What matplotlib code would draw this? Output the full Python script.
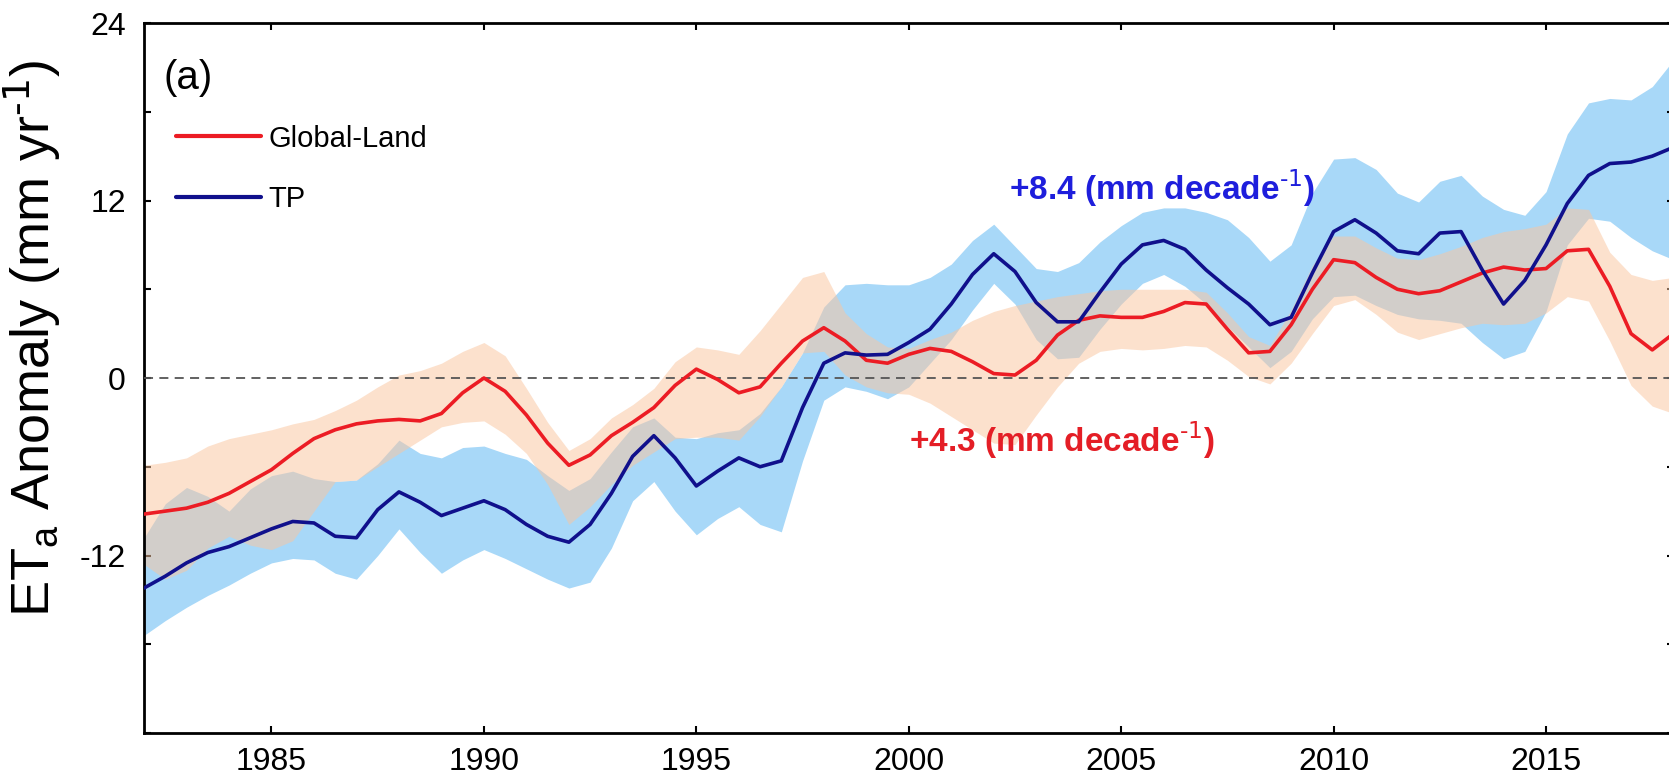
import numpy as np
import matplotlib
matplotlib.use("Agg")
import matplotlib.pyplot as plt
from matplotlib.ticker import FixedFormatter

plt.rcParams['font.family'] = ['Liberation Sans', 'DejaVu Sans']
plt.rcParams['mathtext.default'] = 'regular'
plt.rcParams['axes.unicode_minus'] = False

years = np.arange(1982.0, 2018.01, 0.5)

# Global-Land mean and band
glob_mean = [-9.2, -9.0, -8.8, -8.4, -7.8, -7.0, -6.2, -5.1, -4.1, -3.5, -3.1, -2.9, -2.8, -2.9, -2.4, -1.0,
             0.0, -0.9, -2.5, -4.4, -5.9, -5.2, -3.9, -3.0, -2.0, -0.5, 0.6, -0.1, -1.0, -0.6, 1.0, 2.5,
             3.4, 2.5, 1.2, 1.0, 1.6, 2.0, 1.8, 1.1, 0.3, 0.2, 1.2, 2.9, 3.9, 4.2, 4.1, 4.1, 4.5, 5.1,
             5.0, 3.3, 1.7, 1.8, 3.6, 6.0, 8.0, 7.8, 6.8, 6.0, 5.7, 5.9, 6.5, 7.1, 7.5, 7.3, 7.4, 8.6,
             8.7, 6.2, 3.0, 1.9, 3.0]
glob_hi = [-5.9, -5.7, -5.4, -4.6, -4.1, -3.8, -3.5, -3.1, -2.8, -2.2, -1.5, -0.6, 0.2, 0.5, 1.0, 1.8,
           2.4, 1.5, -0.7, -3.0, -4.9, -4.1, -2.7, -1.8, -0.7, 1.1, 2.1, 1.9, 1.6, 3.2, 5.0, 6.8,
           7.2, 4.4, 3.0, 2.1, 2.0, 2.6, 3.1, 3.9, 4.5, 4.9, 5.2, 5.5, 5.7, 5.9, 6.0, 6.0, 6.0, 6.0,
           5.8, 4.4, 2.8, 2.2, 4.6, 7.6, 9.6, 9.6, 8.8, 8.1, 8.0, 8.4, 8.9, 9.5, 9.9, 10.1, 10.4, 11.5,
           11.4, 8.5, 7.0, 6.6, 6.8]
glob_lo = [-12.6, -13.6, -13.0, -11.5, -10.7, -11.3, -11.6, -11.0, -9.0, -7.0, -6.9, -6.0, -5.1, -4.2, -3.3, -3.0,
           -2.9, -3.8, -5.1, -7.2, -9.9, -8.7, -7.2, -5.9, -5.0, -4.1, -4.0, -4.0, -4.2, -2.6, -0.6, 1.7,
           1.8, 0.2, -0.6, -1.0, -1.1, -1.7, -2.6, -3.5, -4.4, -4.5, -2.5, -0.6, 1.0, 1.8, 2.0, 1.9, 2.0, 2.2,
           2.1, 1.2, 0.1, -0.4, 1.0, 3.0, 4.9, 5.3, 4.3, 3.1, 2.6, 3.0, 3.4, 3.7, 3.6, 3.7, 4.4, 5.5,
           5.2, 2.5, -0.5, -1.9, -2.4]

# TP mean and band
tp_mean = [-14.2, -13.4, -12.5, -11.8, -11.4, -10.8, -10.2, -9.7, -9.8, -10.7, -10.8, -8.9, -7.7, -8.4, -9.3, -8.8,
           -8.3, -8.9, -9.9, -10.7, -11.1, -9.9, -7.8, -5.3, -3.9, -5.4, -7.3, -6.3, -5.4, -6.0, -5.6, -2.0,
           1.0, 1.7, 1.55, 1.6, 2.4, 3.3, 5.0, 7.0, 8.4, 7.2, 5.1, 3.8, 3.8, 5.8, 7.7, 9.0, 9.3, 8.7,
           7.3, 6.1, 5.0, 3.6, 4.1, 7.1, 9.9, 10.7, 9.8, 8.6, 8.4, 9.8, 9.9, 7.3, 5.0, 6.6, 9.0, 11.8,
           13.7, 14.5, 14.6, 15.0, 15.6]
tp_hi = [-10.8, -8.5, -7.4, -8.0, -9.0, -7.5, -6.6, -6.3, -6.8, -7.0, -6.9, -5.8, -4.2, -5.1, -5.4, -4.7,
         -4.6, -5.1, -5.5, -6.6, -7.6, -6.8, -5.0, -3.3, -2.7, -4.0, -4.1, -3.7, -3.5, -2.4, -0.6, 1.7,
         4.8, 6.3, 6.4, 6.3, 6.3, 6.8, 7.7, 9.3, 10.4, 8.9, 7.4, 7.2, 7.8, 9.2, 10.3, 11.2, 11.5, 11.5,
         11.2, 10.7, 9.5, 7.9, 9.0, 12.5, 14.8, 14.9, 14.1, 12.5, 11.9, 13.3, 13.7, 12.3, 11.4, 11.0, 12.6, 16.5,
         18.6, 18.9, 18.8, 19.7, 21.5]
tp_lo = [-17.4, -16.4, -15.5, -14.7, -14.0, -13.2, -12.5, -12.2, -12.3, -13.2, -13.6, -12.0, -10.2, -11.8, -13.2, -12.3,
         -11.6, -12.2, -12.9, -13.6, -14.2, -13.8, -11.5, -8.3, -7.0, -9.0, -10.6, -9.5, -8.7, -9.9, -10.4, -5.6,
         -1.5, -0.6, -0.9, -1.4, -0.6, 1.0, 2.6, 4.6, 6.4, 5.0, 2.6, 1.3, 1.4, 3.3, 5.0, 6.4, 7.0, 6.2,
         5.0, 3.5, 2.1, 0.7, 1.8, 4.0, 5.5, 5.6, 4.9, 4.3, 4.0, 3.9, 3.7, 2.4, 1.3, 1.8, 4.5, 9.0,
         10.8, 10.6, 9.5, 8.6, 8.0]

xticks = [1985, 1990, 1995, 2000, 2005, 2010, 2015]
yticks = [-24, -12, 0, 12, 24]
ytick_labels = ['', '-12', '0', '12', '24']
labels = ['Global-Land', 'TP']
trend_tp = r'+8.4 (mm decade$^{\text{-1}}$)'
trend_gl = r'+4.3 (mm decade$^{\text{-1}}$)'

red = '#EC1C24'
navy = '#10108C'
lightblue = '#A8D8F8'
peach = (250/255, 198/255, 160/255)

fig = plt.figure(figsize=(16.69, 7.75), dpi=100)
ax = fig.add_axes([0.0863, 0.0542, 0.9164, 0.9161])

ax.fill_between(years, tp_lo, tp_hi, color=lightblue, lw=0, zorder=1)
ax.fill_between(years, glob_lo, glob_hi, color=peach, alpha=0.52, lw=0, zorder=2)
ax.axhline(0, color='#555555', lw=1.3, ls=(0, (5, 3.5)), zorder=3)
ax.plot(years, glob_mean, color=red, lw=2.6, label=labels[0], zorder=4,
        solid_joinstyle='round', solid_capstyle='round')
ax.plot(years, tp_mean, color=navy, lw=2.6, label=labels[1], zorder=5,
        solid_joinstyle='round', solid_capstyle='round')

ax.set_xlim(1982, 2018)
ax.set_ylim(-24, 24)
ax.set_xticks(xticks)
ax.set_yticks(yticks)
ax.yaxis.set_major_formatter(FixedFormatter(ytick_labels))
ax.set_yticks(np.arange(-24, 25, 6), minor=True)
ax.tick_params(axis='both', which='both', direction='in', top=True, right=True,
               length=5, width=1.5, labelsize=23)
ax.tick_params(axis='x', pad=10)
ax.tick_params(axis='y', pad=13)
for s in ax.spines.values():
    s.set_linewidth(2.0)

ax.set_ylabel(r'ET$_{a}$ Anomaly (mm yr$^{\text{-1}}$)', fontsize=39)
ax.yaxis.set_label_coords(-0.053, 0.556)

ax.text(0.013, 0.922, '(a)', transform=ax.transAxes, fontsize=29, va='center', ha='left')

leg = ax.legend(loc='upper left', bbox_to_anchor=(0.021, 0.857), frameon=False, fontsize=21,
                handlelength=2.9, handletextpad=0.25, labelspacing=1.12, borderaxespad=0.0,
                borderpad=0.0)
for ln in leg.get_lines():
    ln.set_linewidth(3.0)

ax.text(2002.35, 12.8, trend_tp, color='#1E1EDC', fontsize=24, fontweight='bold', va='center', ha='left')
ax.text(2000.0, -4.25, trend_gl, color='#E41E26', fontsize=24, fontweight='bold', va='center', ha='left')

fig.savefig('out.png', dpi=100)
